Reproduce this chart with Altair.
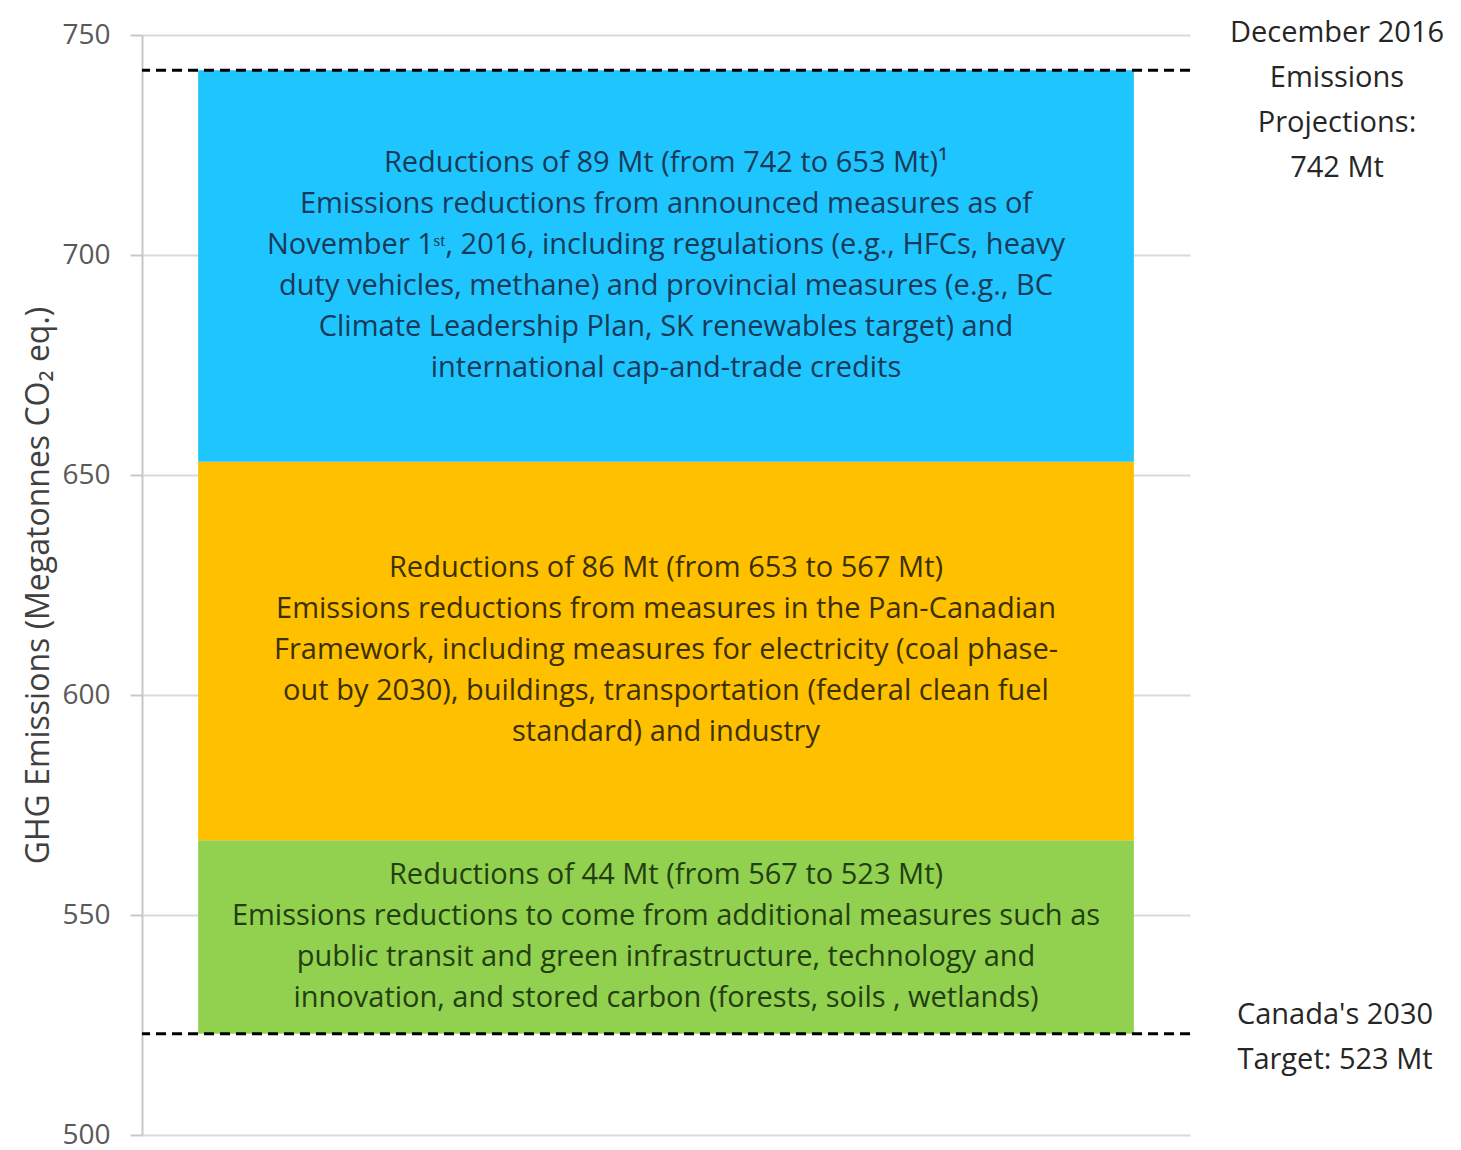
import altair as alt
import pandas as pd

# ---- data ----
segment_names = ["Additional measures", "Pan-Canadian Framework", "Announced measures"]
segment_low = [523, 567, 653]
segment_high = [567, 653, 742]
segment_colors = ["#92D050", "#FFC000", "#1FC5FF"]
segment_text_colors = ["#233f10", "#3d3000", "#173a58"]
segment_texts = [
    "Reductions of 44 Mt (from 567 to 523 Mt)\n"
    "Emissions reductions to come from additional measures such as\n"
    "public transit and green infrastructure, technology and\n"
    "innovation, and stored carbon (forests, soils , wetlands)",
    "Reductions of 86 Mt (from 653 to 567 Mt)\n"
    "Emissions reductions from measures in the Pan-Canadian\n"
    "Framework, including measures for electricity (coal phase-\n"
    "out by 2030), buildings, transportation (federal clean fuel\n"
    "standard) and industry",
    "Reductions of 89 Mt (from 742 to 653 Mt)\u00b9\n"
    "Emissions reductions from announced measures as of\n"
    "November 1\u02e2\u1d57, 2016, including regulations (e.g., HFCs, heavy\n"
    "duty vehicles, methane) and provincial measures (e.g., BC\n"
    "Climate Leadership Plan, SK renewables target) and\n"
    "international cap-and-trade credits",
]
y_ticks = [500, 550, 600, 650, 700, 750]
projection_value = 742
projection_label = "December 2016\nEmissions\nProjections:\n742 Mt"
target_value = 523
target_label = "Canada's 2030\nTarget: 523 Mt"

FONT = "Open Sans"
BAR_LH = 41
SIDE_LH = 45

seg_df = pd.DataFrame({
    "cat": ["2030"] * 3,
    "name": segment_names,
    "low": segment_low,
    "high": segment_high,
    "fill": segment_colors,
    "tcolor": segment_text_colors,
    "label": segment_texts,
})

x_enc = alt.X("cat:N", scale=alt.Scale(paddingInner=0, paddingOuter=0.06), axis=None)
y_scale = alt.Scale(domain=[500, 750], nice=False, zero=False)

bars = alt.Chart(seg_df).mark_bar().encode(
    x=x_enc,
    y=alt.Y("low:Q", scale=y_scale,
            axis=alt.Axis(values=y_ticks,
                          title="GHG Emissions  (Megatonnes CO\u2082 eq.)")),
    y2="high:Q",
    color=alt.Color("fill:N", scale=None),
)

# one text layer per segment, vertically centred on the segment
bar_texts = []
for i in range(len(segment_names)):
    n_lines = segment_texts[i].count("\n") + 1
    t = alt.Chart(seg_df.iloc[[i]]).transform_calculate(
        mid="(datum.low + datum.high) / 2"
    ).mark_text(
        lineBreak="\n", font=FONT, fontSize=29, lineHeight=BAR_LH,
        align="center", baseline="middle", dy=-(n_lines - 1) * BAR_LH / 2 - 1,
    ).encode(
        x=x_enc,
        y=alt.Y("mid:Q", scale=y_scale),
        text="label:N",
        color=alt.Color("tcolor:N", scale=None),
    )
    bar_texts.append(t)

ref_df = pd.DataFrame({"value": [projection_value, target_value],
                       "label": [projection_label, target_label]})

rules = alt.Chart(ref_df).mark_rule(
    color="black", strokeWidth=3, strokeDash=[10, 6]
).encode(y=alt.Y("value:Q", scale=y_scale))

proj_text = alt.Chart(ref_df.iloc[[0]]).mark_text(
    lineBreak="\n", font=FONT, fontSize=29, lineHeight=SIDE_LH,
    align="center", baseline="middle", dy=-37, color="#262626",
).encode(y=alt.Y("value:Q", scale=y_scale), x=alt.value(1195), text="label:N")

target_text = alt.Chart(ref_df.iloc[[1]]).mark_text(
    lineBreak="\n", font=FONT, fontSize=29, lineHeight=SIDE_LH,
    align="center", baseline="middle", dy=-19, color="#262626",
).encode(y=alt.Y("value:Q", scale=y_scale), x=alt.value(1193), text="label:N")

chart = alt.layer(bars, *bar_texts, rules, proj_text, target_text).properties(
    width=1048, height=1100,
    autosize=alt.AutoSizeParams(type="none"),
    padding={"left": 134, "top": 27, "right": 263, "bottom": 15},
).configure_view(stroke=None).configure_axis(
    labelFont=FONT, labelFontSize=28, labelColor="#595959", labelPadding=20,
    titleFont=FONT, titleFontSize=32, titleColor="#404040", titleFontWeight="normal",
    titlePadding=6,
    domainColor="#c8c8c8", domainWidth=2,
    tickColor="#c8c8c8", tickWidth=2, tickSize=12,
    gridColor="#d9d9d9", gridWidth=2,
)

chart.save("out.html", embed_options={"renderer": "svg", "actions": False})
